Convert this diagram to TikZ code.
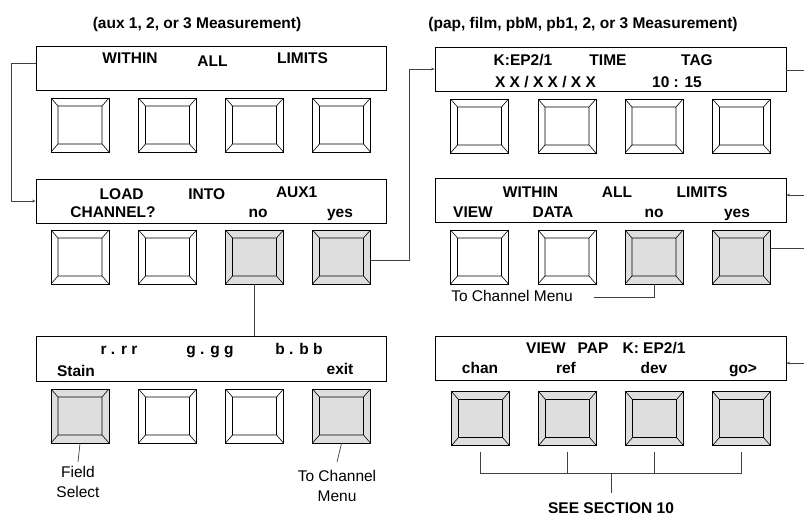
\documentclass[tikz,border=0pt]{standalone}
\usepackage{fontspec}
\setmainfont{Liberation Sans}
\usetikzlibrary{arrows.meta}
\begin{document}
\begin{tikzpicture}[x=1pt,y=-1pt,
  btn/.style={draw, line width=0.8pt, minimum width=58pt, minimum height=54pt, inner sep=0pt,
    path picture={
      \draw[line width=0.6pt]
        ([xshift=7pt,yshift=-8pt]path picture bounding box.north west) rectangle ([xshift=-7pt,yshift=8pt]path picture bounding box.south east)
        (path picture bounding box.north west) -- ([xshift=7pt,yshift=-8pt]path picture bounding box.north west)
        (path picture bounding box.north east) -- ([xshift=-7pt,yshift=-8pt]path picture bounding box.north east)
        (path picture bounding box.south west) -- ([xshift=7pt,yshift=8pt]path picture bounding box.south west)
        (path picture bounding box.south east) -- ([xshift=-7pt,yshift=8pt]path picture bounding box.south east);
    }},
  on/.style={fill=black!13},
  scr/.style={draw, line width=0.8pt, minimum width=350pt, minimum height=44pt, inner sep=0pt},
  lbl/.style={font=\fontsize{15.5}{18}\selectfont\bfseries, anchor=base, inner sep=0pt},
  txt/.style={font=\fontsize{15.5}{20.5}\selectfont, inner sep=0pt, align=center},
  conn/.style={line width=0.7pt, draw=black!75},
  arr/.style={-{Stealth[length=3.5pt,width=2.6pt]}}
]
\useasboundingbox (0,0) rectangle (804,515);

% titles
\node[lbl] (tl) at (197,28) {(aux 1, 2, or 3 Measurement)};
\node[lbl] (tr) at (583,28) {(pap, film, pbM, pb1, 2, or 3 Measurement)};

% screens
\node[scr] (sL1) at (211,68.5) {};
\node[scr] (sL2) at (211,201) {};
\node[scr, minimum height=45pt] (sL3) at (211,359) {};
\node[scr, minimum width=351pt] (sR1) at (610.5,69) {};
\node[scr, minimum width=351pt] (sR2) at (610.5,200) {};
\node[scr, minimum width=351pt] (sR3) at (610.5,358) {};

% left buttons
\node[btn] (L11) at (80,125) {};
\node[btn] (L12) at (167.5,125) {};
\node[btn] (L13) at (254.5,125) {};
\node[btn] (L14) at (341.5,125) {};
\node[btn] (L21) at (80,257) {};
\node[btn] (L22) at (167.5,257) {};
\node[btn,on] (L23) at (254.5,257) {};
\node[btn,on] (L24) at (341.5,257) {};
\node[btn,on] (L31) at (80,416) {};
\node[btn] (L32) at (167.5,416) {};
\node[btn] (L33) at (254.5,416) {};
\node[btn,on] (L34) at (341.5,416) {};

% right buttons
\node[btn] (R11) at (479.5,126) {};
\node[btn] (R12) at (567,126) {};
\node[btn] (R13) at (654,126) {};
\node[btn] (R14) at (741.5,126) {};
\node[btn] (R21) at (479.5,257) {};
\node[btn] (R22) at (567,257) {};
\node[btn,on] (R23) at (654,257) {};
\node[btn,on] (R24) at (741.5,257) {};
\node[btn,on] (R31) at (480.5,418.5) {};
\node[btn,on] (R32) at (567.5,418.5) {};
\node[btn,on] (R33) at (654.5,418.5) {};
\node[btn,on] (R34) at (741.5,418.5) {};

% left screen texts
\node[lbl] (a1) at (130,63) {WITHIN};
\node[lbl] (a2) at (212.5,66) {ALL};
\node[lbl] (a3) at (302.5,63) {LIMITS};
\node[lbl] (b1) at (121.7,199) {LOAD};
\node[lbl] (b2) at (206.7,199) {INTO};
\node[lbl] (b3) at (296.7,197) {AUX1};
\node[lbl] (b4) at (113,217) {CHANNEL?};
\node[lbl] (b5) at (258,217) {no};
\node[lbl] (b6) at (340,217) {yes};
\node[lbl] (c1) at (119,354) {r . r r};
\node[lbl] (c2) at (210,354) {g . g g};
\node[lbl] (c3) at (299,354) {b . b b};
\node[lbl] (c4) at (76,376) {Stain};
\node[lbl] (c5) at (340,374) {exit};

% right screen texts
\node[lbl] (d1) at (523,65) {K:EP2/1};
\node[lbl] (d2) at (608,65) {TIME};
\node[lbl] (d3) at (697,65) {TAG};
\node[lbl] (d4) at (545.5,87) {X X / X X / X X};
\node[lbl] (d5) at (677,87) {10 : 15};
\node[lbl] (e1) at (530.5,197) {WITHIN};
\node[lbl] (e2) at (617,197) {ALL};
\node[lbl] (e3) at (702,197) {LIMITS};
\node[lbl] (e4) at (473,217) {VIEW};
\node[lbl] (e5) at (553,217) {DATA};
\node[lbl] (e6) at (654,217) {no};
\node[lbl] (e7) at (737,217) {yes};
\node[lbl] (f1) at (546,353) {VIEW};
\node[lbl] (f2) at (593,353) {PAP};
\node[lbl] (f3) at (654,353) {K: EP2/1};
\node[lbl] (f4) at (480,373) {chan};
\node[lbl] (f5) at (566,373) {ref};
\node[lbl] (f6) at (654,373) {dev};
\node[lbl] (f7) at (743,373) {go>};

% labels below
\node[txt, anchor=north] (fs) at (78,466) {Field\\Select};
\node[txt, anchor=north] (tcl) at (337,470) {To Channel\\Menu};
\node[txt, anchor=base] (tcr) at (512,301) {To Channel Menu};
\node[lbl] (see) at (611,513) {SEE SECTION 10};

% junction coordinates
\coordinate (j0) at (11,63);
\coordinate (j1) at (409,260);
\coordinate (bc) at (611,473);
\coordinate (o1) at (804,70);
\coordinate (o2) at (804,195);
\coordinate (o3) at (804,248);
\coordinate (o4) at (804,363);

% connectors
\draw[conn,arr] ([yshift=5.5pt]sL1.west) -- (j0) |- (sL2.west);
\draw[conn,arr] ([yshift=-3pt]L24.east) -- (j1) |- (sR1.west);
\draw[conn] (L23.south) -- (L23.south |- sL3.north);
\draw[conn] (L31.south) -- ([yshift=4pt]fs.north);
\draw[conn] (L34.south) -- ([yshift=8pt]tcl.north);
\draw[conn] (sR1.east |- o1) -- (o1);
\draw[conn,arr] (o2) -- (sR2.east |- o2);
\draw[conn] ([yshift=9pt]R24.east) -- (o3);
\draw[conn,arr] (o4) -- (sR3.east |- o4);
\draw[conn] (R23.south) |- ([xshift=21pt,yshift=-1.5pt]tcr.east);
\draw[conn] ([yshift=-6pt]R31.south) -- (R31 |- bc) -- (R34 |- bc) -- ([yshift=-6pt]R34.south);
\draw[conn] ([yshift=-6pt]R32.south) -- (R32 |- bc);
\draw[conn] ([yshift=-6pt]R33.south) -- (R33 |- bc);
\draw[conn] (bc) -- ([yshift=9pt]see.north);
\end{tikzpicture}
\end{document}
